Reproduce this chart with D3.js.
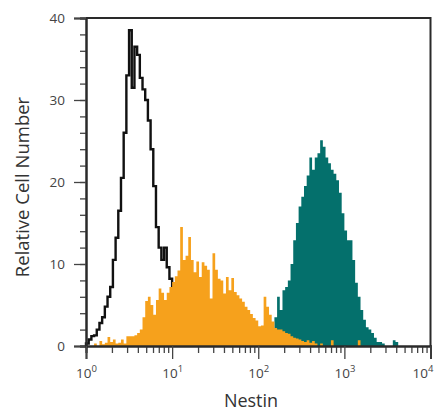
<!DOCTYPE html>
<html>
<head>
<meta charset="utf-8">
<script src="https://cdn.jsdelivr.net/npm/d3@7"></script>
<style>
  html, body { margin: 0; padding: 0; background: #fff; }
  svg { display: block; }
  text { font-family: "Open Sans", "Liberation Sans", sans-serif; }
</style>
</head>
<body>
<svg id="chart" width="439" height="415"></svg>
<script>
// ---- data (histogram counts, 32 bins per decade, log10 bins) ----
const binsPerDecade = 32;
const xTickExponents = [0, 1, 2, 3, 4];
const yTickValues = [0, 10, 20, 30, 40];
const xLabel = "Nestin";
const yLabel = "Relative Cell Number";

// isotype control (black outline)
const controlStartBin = 0;
const controlCounts = [0.3, 0.8, 1.2, 1.3, 2, 2.8, 3.5, 4.8, 6, 7.2, 10.5, 13.2, 16.5, 20.5, 26,
  33, 38.5, 31.5, 36.5, 35.5, 32.7, 31.3, 30, 27.5, 24, 19.5, 14.5, 12, 10.5, 12, 9.6, 8.2,
  6.8, 4.5, 2.5, 1.2, 0.4];

// orange (filled)
const orangeStartBin = 3;
const orangeCounts = [0.3, 0, 0.6, 0.2, 0.4, 1.1, 0.5, 0.8, 0.3, 0.4, 0.8, 0.3, 1.2, 1.2, 1.2,
  1.3, 1.6, 2, 3.5, 5.5, 6, 5, 3.8, 5.6, 7, 6.5, 5.6, 6.5, 7.2, 7.8, 8.5, 9.2, 14.5, 10.5, 11,
  13.3, 10.5, 9, 10.3, 8.4, 10.2, 9.8, 9.3, 5.8, 11.3, 9.3, 8.2, 8, 6.4, 8.4, 6.8, 8.3, 6.6,
  6.2, 5.8, 5.4, 4.8, 4.4, 3.9, 3.4, 3.1, 2.4, 2.5, 6, 4.8, 3.8, 3, 2.2, 2, 2, 1.8, 1.6, 1.5,
  1.2, 1, 0.9, 0.8, 0.6, 0.5, 0.7, 0.4, 0.6, 0.3, 0, 0.3, 0, 0, 0, 0.7, 0, 0, 0, 0, 0, 0, 0,
  0, 0, 0.7];

// teal (filled)
const tealStartBin = 70;
const tealCounts = [3.5, 6, 4.4, 6.8, 7.2, 8, 10, 12.9, 15, 17, 18.2, 19.5, 20.8, 23, 21.5, 23,
  23.5, 25.1, 24.3, 23, 22.3, 21.5, 21, 20.2, 18.7, 16.2, 14.1, 12.9, 12.9, 10.5, 7.7, 6, 4.4,
  3.2, 2.3, 2, 1.6, 1, 0.5, 0.5, 0.3, 0, 0, 0, 0.7, 0.5];

// ---- layout ----
const svg = d3.select("#chart");
const mLeft = 86, mRight = 430.5, mTop = 18, mBottom = 346;

const x = d3.scaleLog().domain([1, 1e4]).range([mLeft, mRight]);
const y = d3.scaleLinear().domain([0, 40]).range([mBottom, mTop]);

function binPoints(startBin, counts) {
  const pts = counts.map((c, i) => [Math.pow(10, (startBin + i) / binsPerDecade), c]);
  pts.push([Math.pow(10, (startBin + counts.length) / binsPerDecade), 0]);
  return pts;
}

const area = d3.area()
  .x(d => x(d[0])).y0(y(0)).y1(d => y(d[1]))
  .curve(d3.curveStepAfter);

const line = d3.line()
  .x(d => x(d[0])).y(d => y(d[1]))
  .curve(d3.curveStepAfter);

// teal first
svg.append("path")
  .attr("d", area(binPoints(tealStartBin, tealCounts)))
  .attr("fill", "#04706c");

// black control outline
const cPts = binPoints(controlStartBin, controlCounts);
cPts.unshift([cPts[0][0], 0]);
svg.append("path")
  .attr("d", line(cPts))
  .attr("fill", "none")
  .attr("stroke", "#111")
  .attr("stroke-width", 2.4)
  .attr("stroke-linejoin", "miter");

// orange on top
svg.append("path")
  .attr("d", area(binPoints(orangeStartBin, orangeCounts)))
  .attr("fill", "#f6a11c");

// ---- frame ----
const frameColor = "#2a2a2a";
svg.append("line").attr("x1", mLeft).attr("x2", mRight).attr("y1", mTop).attr("y2", mTop)
  .attr("stroke", frameColor).attr("stroke-width", 2);
svg.append("line").attr("x1", mRight).attr("x2", mRight).attr("y1", mTop - 1).attr("y2", mBottom)
  .attr("stroke", frameColor).attr("stroke-width", 2);

// ---- y axis ----
const yMinor = d3.range(0, 41, 2);
const yAxisMinor = d3.axisLeft(y).tickValues(yMinor).tickSize(6).tickFormat("");
const gYm = svg.append("g").attr("transform", `translate(${mLeft},0)`).call(yAxisMinor);
const yAxis = d3.axisLeft(y).tickValues(yTickValues).tickSize(12).tickPadding(9);
const gY = svg.append("g").attr("transform", `translate(${mLeft},0)`).call(yAxis);
[gYm, gY].forEach(g => {
  g.selectAll("path.domain").attr("stroke", frameColor).attr("stroke-width", 2);
  g.selectAll(".tick line").attr("stroke", "#444").attr("stroke-width", 1.3);
});
gY.selectAll(".tick text").attr("font-size", 13.5).attr("fill", "#444")
  .attr("font-family", "'Open Sans', sans-serif");

// ---- x axis ----
const xMinor = [];
for (let e = 0; e < 4; e++) for (let m = 2; m <= 9; m++) xMinor.push(m * Math.pow(10, e));
const xAxisMinor = d3.axisBottom(x).tickValues(xMinor).tickSize(7).tickFormat("");
const gXm = svg.append("g").attr("transform", `translate(0,${mBottom})`).call(xAxisMinor);
const xAxis = d3.axisBottom(x).tickValues(xTickExponents.map(e => Math.pow(10, e)))
  .tickSize(13).tickFormat("");
const gX = svg.append("g").attr("transform", `translate(0,${mBottom})`).call(xAxis);
[gXm, gX].forEach(g => {
  g.selectAll("path.domain").attr("stroke", frameColor).attr("stroke-width", 2);
  g.selectAll(".tick line").attr("stroke", "#444").attr("stroke-width", 1.3);
});
gX.selectAll(".tick").each(function(d, i) {
  const last = i === xTickExponents.length - 1;
  const t = d3.select(this).append("text")
    .attr("y", 32).attr("x", last ? -8 : 0)
    .attr("text-anchor", "middle")
    .attr("font-size", 13.5).attr("fill", "#444")
    .attr("font-family", "'Open Sans', sans-serif");
  t.append("tspan").text("10");
  t.append("tspan").text(String(xTickExponents[i]))
    .attr("dy", -6).attr("font-size", 9.5);
});

// ---- axis titles ----
svg.append("text")
  .attr("x", 251).attr("y", 407)
  .attr("text-anchor", "middle")
  .attr("font-size", 18).attr("fill", "#333")
  .text(xLabel);

svg.append("text")
  .attr("transform", "translate(29,187) rotate(-90)")
  .attr("text-anchor", "middle")
  .attr("font-size", 18.5).attr("fill", "#333")
  .text(yLabel);
</script>
</body>
</html>
